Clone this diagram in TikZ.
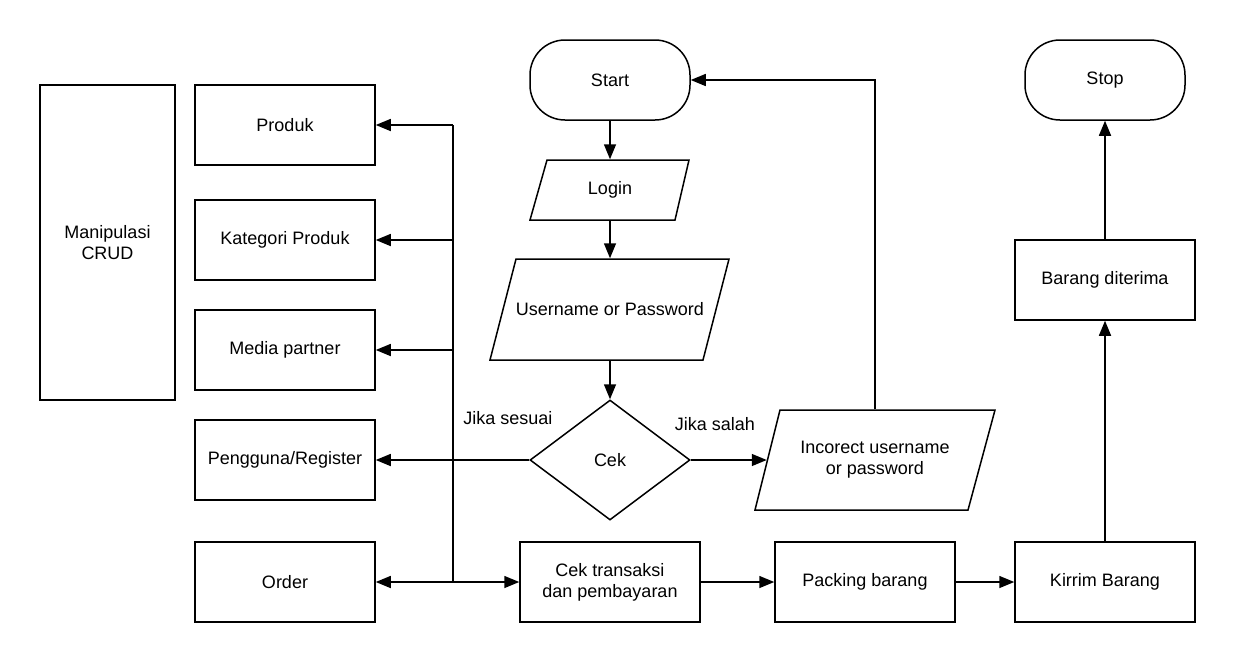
\documentclass[tikz,border=0pt]{standalone}
\usepackage{fontspec}
\setmainfont{Liberation Sans}
\usetikzlibrary{arrows.meta,shapes.geometric}
\newcommand\dfont{\fontsize{18}{21}\selectfont}
\begin{document}
\begin{tikzpicture}[x=1pt,y=-1pt,line width=1.5pt,
  box/.style={draw,minimum width=180pt,minimum height=80pt,inner sep=0pt,align=center,font=\dfont},
  plain/.style={inner sep=0pt,align=center,font=\dfont},
  arr/.style={-{Triangle[length=15pt,width=12pt]}}]
\useasboundingbox (0,0) rectangle (1235,662);
% left column
\node[box,minimum width=135pt,minimum height=315pt] (crud) at (107.5,242.5) {Manipulasi\\CRUD};
\node[box] (produk) at (285,125) {Produk};
\node[box] (kat) at (285,240) {Kategori Produk};
\node[box] (media) at (285,350) {Media partner};
\node[box] (peng) at (285,460) {Pengguna/Register};
\node[box] (order) at (285,582) {Order};
% terminals
\node[box,rounded corners=35pt,minimum width=160pt] (start) at (610,80) {Start};
\node[box,rounded corners=35pt,minimum width=160pt] (stop) at (1105,80) {Stop};
% process boxes
\node[box] (cekt) at (610,582) {Cek transaksi\\dan pembayaran};
\node[box] (pack) at (865,582) {Packing barang};
\node[box] (kirim) at (1105,582) {Kirrim Barang};
\node[box] (terima) at (1105,280) {Barang diterima};
% decision
\node[draw,diamond,inner sep=0pt,minimum width=160pt,minimum height=120pt,font=\dfont] (cek) at (610,460) {Cek};
% parallelograms
\node[plain,minimum width=143.5pt,minimum height=60pt] (login) at (610,190) {Login};
\draw (547,160) -- (689,160) -- (675,220) -- (530,220) -- cycle;
\node[plain,minimum width=213pt,minimum height=101pt] (user) at (610,309.5) {Username or Password};
\draw (516,259) -- (729,259) -- (703,360) -- (490,360) -- cycle;
\node[plain,minimum width=215pt,minimum height=100pt] (inc) at (875,460) {Incorect username\\or password};
\draw (780,410) -- (995,410) -- (968,510) -- (755,510) -- cycle;
% labels
\node[plain] (lsesuai) at (508,418) {Jika sesuai};
\node[plain] (lsalah) at (715,424) {Jika salah};
% bus
\coordinate (bt) at (453,125);
\coordinate (bk) at (453,240);
\coordinate (bm) at (453,350);
\coordinate (bb) at (453,582);
\draw (bt) -- (bb);
\draw[arr] (bt) -- (produk.east);
\draw[arr] (bk) -- (kat.east);
\draw[arr] (bm) -- (media.east);
\draw[arr] (bb) -- (order.east);
\draw[arr] (bb) -- (cekt.west);
% main flow
\draw[arr] (start.south) -- (login.north);
\draw[arr] (login.south) -- (user.north);
\draw[arr] (user.south) -- (cek.north);
\draw[arr] (cek.west) -- (peng.east);
\draw[arr] (cek.east) -- (inc.west);
\draw[arr] (inc.north) |- (start.east);
\draw[arr] (cekt.east) -- (pack.west);
\draw[arr] (pack.east) -- (kirim.west);
\draw[arr] (kirim.north) -- (terima.south);
\draw[arr] (terima.north) -- (stop.south);
\end{tikzpicture}
\end{document}
